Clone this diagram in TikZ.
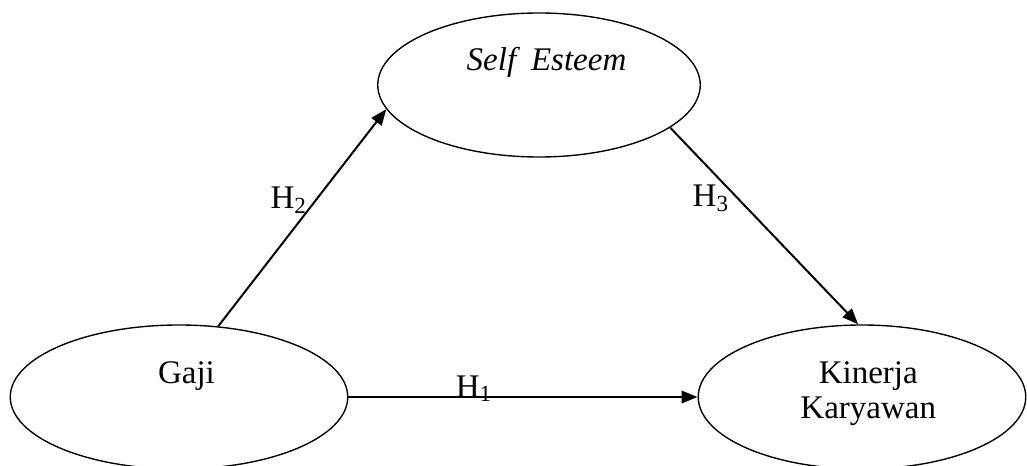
\documentclass[tikz,border=0pt]{standalone}
\usepackage{fontspec}
\setmainfont{Liberation Serif}
\usepackage{tikz}
\usetikzlibrary{shapes.geometric, arrows.meta}
\tikzset{
  latent/.style = {ellipse, draw, line width=0.55pt, inner sep=0pt},
  hyp/.style    = {-{Triangle[length=6.4pt, width=5pt]}, line width=0.8pt},
  hlabel/.style = {inner sep=1pt, font=\fontsize{13.2}{14}\selectfont},
  vtext/.style  = {align=center, font=\fontsize{13.2}{14}\selectfont},
}

\begin{document}
\begin{tikzpicture}[x=0.4pt, y=-0.4pt]
  \useasboundingbox (0,0) rectangle (1027,466);

  \node[latent, minimum width=129pt, minimum height=57.6pt,
        label={[vtext, xshift=3pt, yshift=9pt]center:\textit{Self\hspace{0.45em}Esteem}}]
        (self) at (539,85) {};
  \node[latent, minimum width=135pt, minimum height=57.6pt,
        label={[vtext, xshift=3pt, yshift=8.3pt]center:Gaji}]
        (gaji) at (179,397) {};
  \node[latent, minimum width=131pt, minimum height=57.6pt,
        label={[vtext, xshift=2.5pt, yshift=1.5pt]center:Kinerja\\Karyawan}]
        (kin) at (862,397) {};

  \draw[hyp] (gaji.east) -- node[hlabel, pos=0.36, anchor=base]
        {H\textsubscript{1}} (kin.west);
  \draw[hyp] (gaji.61) -- node[hlabel, pos=0.58, left=2pt]
        {H\textsubscript{2}} (self.189);
  \draw[hyp] (self.342) -- node[hlabel, pos=0.36, left=2pt]
        {H\textsubscript{3}} (kin.93);
\end{tikzpicture}
\end{document}
